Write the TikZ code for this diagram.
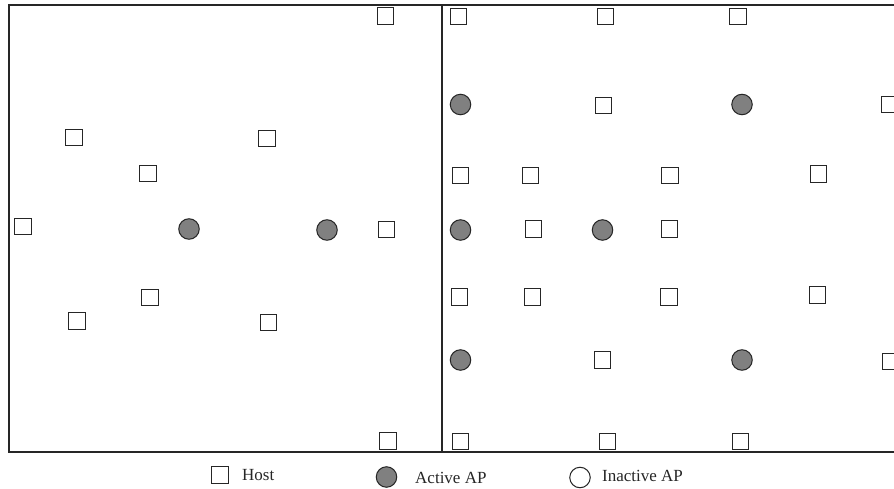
\documentclass[tikz,border=0pt]{standalone}
\usepackage{fontspec}
\setmainfont{Liberation Serif}
\begin{document}
\begin{tikzpicture}[x=1pt,y=-1pt,
  host/.style={draw=black!85,line width=1pt,fill=white,rectangle,minimum size=16.5pt,inner sep=0pt},
  ap/.style={draw=black!85,line width=1pt,fill=black!50,circle,minimum size=20.5pt,inner sep=0pt},
  inap/.style={draw=black!85,line width=1pt,fill=white,circle,minimum size=20.5pt,inner sep=0pt},
  lbl/.style={anchor=base west,inner sep=0pt,font=\fontsize{17}{20}\selectfont,text=black!85},
  frame/.style={draw=black!85,line width=1.1pt}]
\useasboundingbox (0,0) rectangle (894,489);
% frame
\draw[frame] (900,5) -- (9,5) -- (9,452) -- (900,452);
\draw[frame] (442,5) -- (442,452);
% left panel
\node[host] (l1) at (385.5,16) {};
\node[host] (l2) at (74,137.5) {};
\node[host] (l3) at (267,138.5) {};
\node[host] (l4) at (148,173.5) {};
\node[host] (l5) at (23,226.5) {};
\node[ap]   (la1) at (189,229) {};
\node[ap]   (la2) at (327,230) {};
\node[host] (l6) at (386.5,229.5) {};
\node[host] (l7) at (150,297.5) {};
\node[host] (l8) at (77,321) {};
\node[host] (l9) at (268.5,322.5) {};
\node[host] (l10) at (388,441) {};
% right panel
\node[host] (r1) at (458.5,16.5) {};
\node[host] (r2) at (605.5,16.5) {};
\node[host] (r3) at (738,16.5) {};
\node[ap]   (ra1) at (460.5,104.5) {};
\node[host] (r4) at (603.5,105.5) {};
\node[ap]   (ra2) at (742,104.5) {};
\node[host] (r5) at (889.5,104.5) {};
\node[host] (r6) at (460.5,175.5) {};
\node[host] (r7) at (530.5,175.5) {};
\node[host] (r8) at (670,175.5) {};
\node[host] (r9) at (818.5,174) {};
\node[ap]   (ra3) at (460.5,230) {};
\node[host] (r10) at (533.5,229) {};
\node[ap]   (ra4) at (602.5,230) {};
\node[host] (r11) at (669.5,229) {};
\node[host] (r12) at (459.5,297) {};
\node[host] (r13) at (532.5,297) {};
\node[host] (r14) at (669,297) {};
\node[host] (r15) at (817.5,295) {};
\node[ap]   (ra5) at (460.5,360) {};
\node[host] (r16) at (602.5,360) {};
\node[ap]   (ra6) at (742,360) {};
\node[host] (r17) at (890.5,361.5) {};
\node[host] (r18) at (460.5,441.5) {};
\node[host] (r19) at (607.5,441.5) {};
\node[host] (r20) at (740.5,441.5) {};
% legend
\node[host] (kh) at (220,475) {};
\node[lbl] (th) at (242,480.5) {Host};
\node[ap] (ka) at (386.5,477) {};
\node[lbl] (ta) at (415,483) {Active AP};
\node[inap] (ki) at (580,477.5) {};
\node[lbl] (ti) at (602,481) {Inactive AP};
\end{tikzpicture}
\end{document}
